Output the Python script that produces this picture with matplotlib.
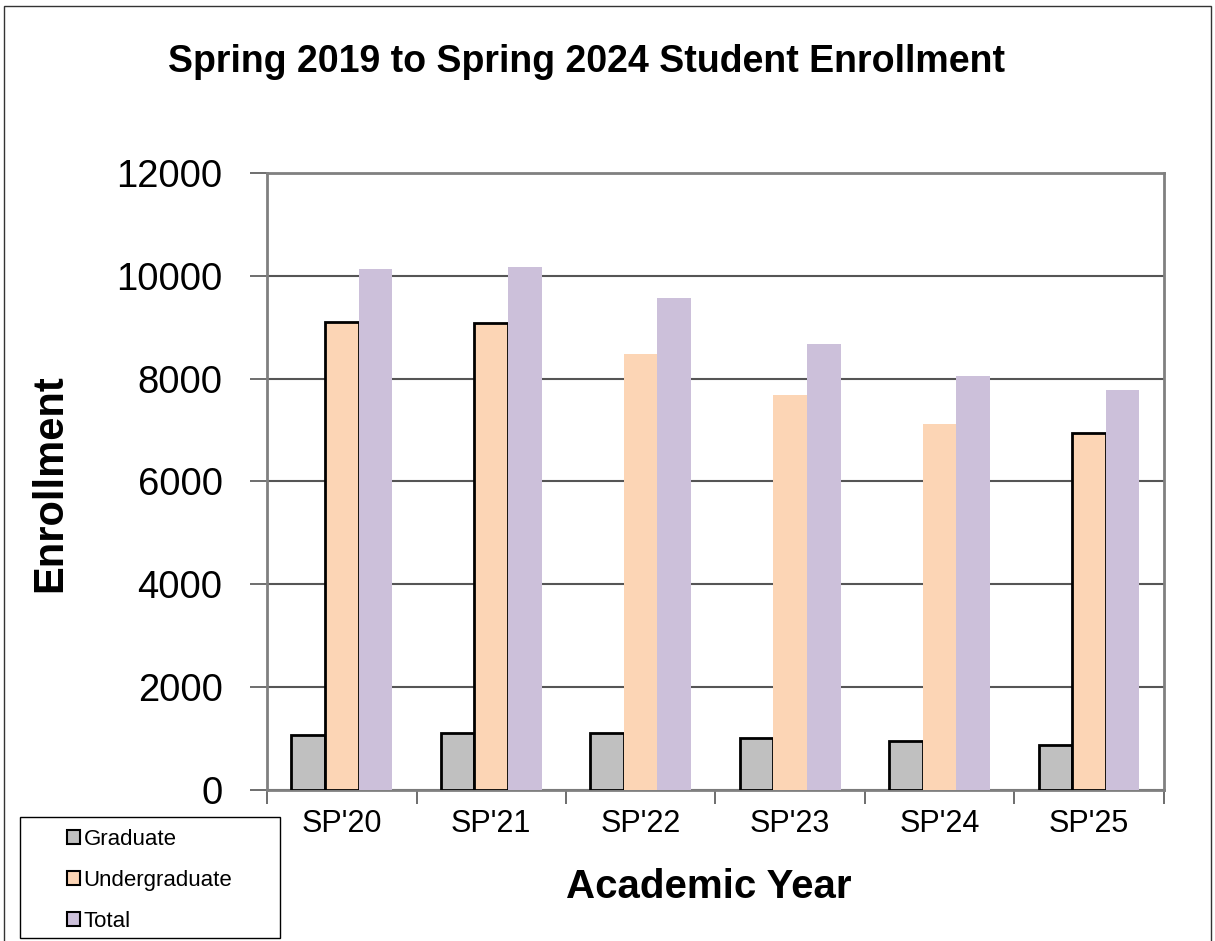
import numpy as np
import matplotlib.pyplot as plt
from matplotlib.patches import Rectangle

plt.rcParams['font.family'] = ['Liberation Sans', 'DejaVu Sans']

years = ["SP'20", "SP'21", "SP'22", "SP'23", "SP'24", "SP'25"]
graduate = [1060, 1100, 1100, 1010, 960, 870]
undergraduate = [9100, 9085, 8480, 7680, 7120, 6950]
total = [10130, 10175, 9565, 8670, 8050, 7775]

# the undergrad bars have an outline only for some years in the original
ug_outline = [True, True, False, False, False, True]

c_grad = '#C0C0C0'
c_ug = '#FCD5B5'
c_tot = '#CCC0DA'

fig = plt.figure(figsize=(12.15, 9.41), dpi=100)
ax = fig.add_axes([0.2198, 0.1605, 0.738, 0.6557])

x = np.arange(len(years))
w = 0.225
ax.bar(x - w, graduate, w, color=c_grad, edgecolor='black', linewidth=2, zorder=3)
ug_edges = ['black' if o else c_ug for o in ug_outline]
ug_lw = [2 if o else 0 for o in ug_outline]
ax.bar(x, undergraduate, w, color=c_ug, edgecolor=ug_edges, linewidth=ug_lw, zorder=3)
ax.bar(x + w, total, w, color=c_tot, linewidth=0, zorder=3)

ax.set_xlim(-0.5, len(years) - 0.5)
ax.set_ylim(0, 12000)
ax.set_yticks(np.arange(0, 12001, 2000))
ax.grid(axis='y', color='#555555', linewidth=1.5, zorder=1)
ax.set_axisbelow(True)

ax.set_xticks(x)
ax.set_xticklabels(years, fontsize=22)
ax.set_xticks(np.arange(-0.5, len(years), 1), minor=True)
ax.tick_params(axis='x', which='major', length=0, pad=14)
ax.tick_params(axis='x', which='minor', length=10, width=1.2, color='#555555', direction='out')
ax.tick_params(axis='y', length=12, width=1.2, color='#555555', labelsize=27.5, pad=20)

for s in ax.spines.values():
    s.set_color('#808080')
    s.set_linewidth(2)

fig.text(0.483, 0.923, 'Spring 2019 to Spring 2024 Student Enrollment',
         fontsize=27, fontweight='bold', ha='center', va='baseline')
fig.text(0.583, 0.0455, 'Academic Year', fontsize=29, fontweight='bold',
         ha='center', va='baseline')
fig.text(0.041, 0.487, 'Enrollment', fontsize=30, fontweight='bold',
         ha='center', va='center', rotation=90)

handles = [Rectangle((0, 0), 1, 1, facecolor=c, edgecolor='black', linewidth=1.5)
           for c in (c_grad, c_ug, c_tot)]
leg = fig.legend(handles, ['Graduate', 'Undergraduate', 'Total'],
                 loc='upper left', bbox_to_anchor=(0.055, 0.119),
                 fontsize=16, frameon=False,
                 handlelength=0.6, handleheight=0.6, handletextpad=0.15,
                 labelspacing=0.9, borderpad=0, borderaxespad=0)

# legend box, wider than the entries as in the original
fig.patches.append(Rectangle((20 / 1215, 1 - 938 / 941), 260 / 1215, 121 / 941,
                             transform=fig.transFigure, fill=False,
                             edgecolor='black', linewidth=1))

fig.patches.append(Rectangle((0.003, -0.01), 0.994, 1.004, transform=fig.transFigure,
                             fill=False, edgecolor='#333333', linewidth=1))

fig.savefig('out.png', dpi=100)
